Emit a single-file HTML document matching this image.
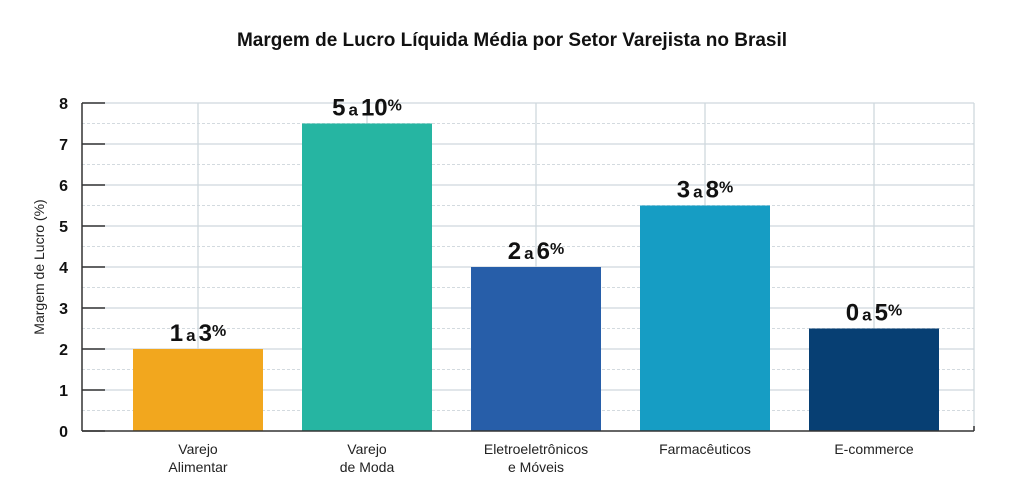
<!DOCTYPE html>
<html><head><meta charset="utf-8"><style>
body{margin:0;background:#fff;width:1024px;height:500px;overflow:hidden}
svg{display:block}
.t{font-family:"Liberation Sans Narrow","Liberation Sans",sans-serif;font-weight:bold}
.s{font-family:"Liberation Sans",sans-serif}
</style></head><body>
<svg id="c" width="1024" height="500">
<text class="t" x="512" y="46" text-anchor="middle" font-size="19" fill="#111">Margem de Lucro Líquida Média por Setor Varejista no Brasil</text>
<text class="s" transform="translate(44,267) rotate(-90)" text-anchor="middle" font-size="14" fill="#222">Margem de Lucro (%)</text>
</svg>
<script>
const categories=[["Varejo","Alimentar"],["Varejo","de Moda"],["Eletroeletrônicos","e Móveis"],["Farmacêuticos"],["E-commerce"]];
const values=[2,7.5,4,5.5,2.5];
const rangeLo=["1","5","2","3","0"];
const rangeHi=["3","10","6","8","5"];
const colors=["#f2a71e","#26b5a2","#275ea9","#169dc4","#073f73"];
const yTicks=[0,1,2,3,4,5,6,7,8];
const NS="http://www.w3.org/2000/svg";
const svg=document.getElementById('c');
const X0=82,X1=974,Y0=431,YT=103;
const y=v=>Y0-(v/8)*(Y0-YT);
const xc=i=>198+169*i;
const bw=130;
function mk(t,a,p){const e=document.createElementNS(NS,t);for(const k in a)e.setAttribute(k,a[k]);(p||svg).appendChild(e);return e;}
// minor grid
for(let i=0;i<8;i++){const g=mk('line',{x1:X0,x2:X1,y1:y(i+0.5),y2:y(i+0.5),stroke:'#d3dadf','stroke-dasharray':'3,2','stroke-width':1});

}
yTicks.forEach(v=>{if(v>0){const g=mk('line',{x1:X0,x2:X1,y1:y(v),y2:y(v),stroke:'#cfd8dd','stroke-width':1.3});

}
const tk=mk('line',{x1:X0,x2:X0+23,y1:y(v),y2:y(v),stroke:'#333','stroke-width':1.5});


const tl=mk('text',{x:68,y:y(v)+6,'text-anchor':'end','font-size':16,fill:'#111',class:'t'});tl.textContent=v;

});
categories.forEach((c,i)=>{const g=mk('line',{x1:xc(i),x2:xc(i),y1:YT,y2:Y0,stroke:'#cfd8dd','stroke-width':1.3});

});
const rb=mk('line',{x1:X1,x2:X1,y1:YT,y2:Y0,stroke:'#cfd8dd','stroke-width':1.3});


categories.forEach((c,i)=>{
const r=mk('rect',{x:xc(i)-bw/2,y:y(values[i]),width:bw,height:Y0-y(values[i]),fill:colors[i]});


const t=mk('text',{x:xc(i),y:y(values[i])-8,'text-anchor':'middle',fill:'#111',class:'t'});


const a=mk('tspan',{'font-size':24},t);a.textContent=rangeLo[i];
const b=mk('tspan',{'font-size':17,dx:3},t);b.textContent='a';
const d=mk('tspan',{'font-size':24,dx:3},t);d.textContent=rangeHi[i];
const e=mk('tspan',{'font-size':16,dy:-5},t);e.textContent='%';
c.forEach((ln,j)=>{const l=mk('text',{x:xc(i),y:454+j*18,'text-anchor':'middle','font-size':14,fill:'#222',class:'s'});l.textContent=ln;

});
});
const ya=mk('line',{x1:X0,x2:X0,y1:YT,y2:Y0,stroke:'#333','stroke-width':1.5});


const xa=mk('line',{x1:X0,x2:X1,y1:Y0,y2:Y0,stroke:'#333','stroke-width':1.5});


const rt=mk('line',{x1:X1,x2:X1,y1:Y0-5,y2:Y0,stroke:'#333','stroke-width':1.5});


</script>
</body></html>
